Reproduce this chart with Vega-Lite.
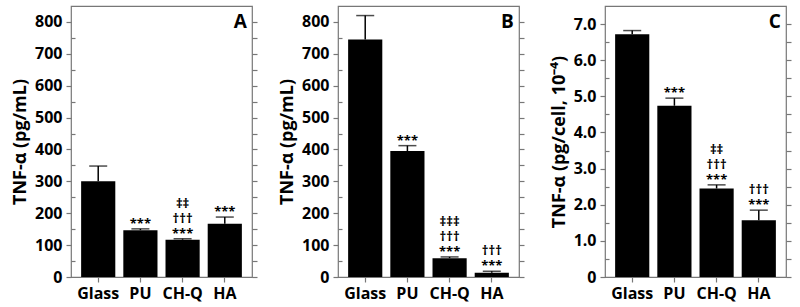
{
  "$schema": "https://vega.github.io/schema/vega-lite/v6.json",
  "autosize": {"type": "pad"},
  "padding": {"left": 10, "top": 5, "right": 5, "bottom": 2},
  "bounds": "flush",
  "spacing": 86,
  "datasets": {
    "A": [
      {"material": "Glass", "value": 300, "err": 348, "stars": "", "dagger": "", "ddagger": ""},
      {"material": "PU", "value": 147, "err": 151, "stars": "***", "dagger": "", "ddagger": ""},
      {"material": "CH-Q", "value": 117, "err": 120, "stars": "***", "dagger": "†††", "ddagger": "‡‡"},
      {"material": "HA", "value": 167, "err": 188, "stars": "***", "dagger": "", "ddagger": ""}
    ],
    "B": [
      {"material": "Glass", "value": 745, "err": 820, "stars": "", "dagger": "", "ddagger": ""},
      {"material": "PU", "value": 395, "err": 412, "stars": "***", "dagger": "", "ddagger": ""},
      {"material": "CH-Q", "value": 59, "err": 63, "stars": "***", "dagger": "†††", "ddagger": "‡‡‡"},
      {"material": "HA", "value": 13, "err": 18, "stars": "***", "dagger": "†††", "ddagger": ""}
    ],
    "C": [
      {"material": "Glass", "value": 6.72, "err": 6.82, "stars": "", "dagger": "", "ddagger": ""},
      {"material": "PU", "value": 4.74, "err": 4.95, "stars": "***", "dagger": "", "ddagger": ""},
      {"material": "CH-Q", "value": 2.45, "err": 2.55, "stars": "***", "dagger": "†††", "ddagger": "‡‡"},
      {"material": "HA", "value": 1.57, "err": 1.85, "stars": "***", "dagger": "†††", "ddagger": ""}
    ],
    "letters": [
      {"panel": "A", "material": "HA"},
      {"panel": "B", "material": "HA"},
      {"panel": "C", "material": "HA"}
    ]
  },
  "config": {
    "font": "Open Sans",
    "view": {"stroke": "#777777", "strokeWidth": 1.2},
    "axis": {
      "grid": false,
      "domain": false,
      "tickColor": "#777777",
      "tickWidth": 1.2,
      "tickSize": 5,
      "labelFont": "Open Sans",
      "labelFontWeight": "bold",
      "labelFontSize": 16,
      "labelColor": "black",
      "titleFont": "Open Sans",
      "titleFontWeight": "bold",
      "titleFontSize": 18,
      "titleColor": "black"
    }
  },
  "hconcat": [
    {
      "width": 181, "height": 271,
      "encoding": {
        "x": {"field": "material", "type": "nominal", "sort": ["Glass", "PU", "CH-Q", "HA"],
              "scale": {"paddingInner": 0.19, "paddingOuter": 0.24},
              "axis": {"title": null, "labelAngle": 0, "labelPadding": 3}}
      },
      "layer": [
        {"data": {"name": "A"}, "mark": {"type": "bar", "color": "black"},
         "encoding": {"y": {"field": "value", "type": "quantitative", "scale": {"domain": [0, 850], "nice": false},
           "axis": {"title": "TNF-α (pg/mL)", "values": [0,100,200,300,400,500,600,700,800], "labelPadding": 4, "titlePadding": 5}}}},
        {"data": {"name": "A"}, "mark": {"type": "rule", "color": "black", "strokeWidth": 1.5},
         "encoding": {"y": {"field": "value", "type": "quantitative", "scale": {"domain": [0, 850], "nice": false},
           "axis": {"orient": "right", "values": [0,50,100,150,200,250,300,350,400,450,500,550,600,650,700,750,800], "labels": false, "title": null}},
           "y2": {"field": "err"}}},
        {"data": {"name": "A"}, "mark": {"type": "tick", "color": "black", "size": 18, "thickness": 1.5},
         "encoding": {"y": {"field": "err", "type": "quantitative", "scale": {"domain": [0, 850], "nice": false},
           "axis": {"orient": "left", "values": [50,150,250,350,450,550,650,750], "labels": false, "title": null, "tickSize": -4}}}},
        {"data": {"name": "A"}, "transform": [{"filter": "datum.stars != ''"}],
         "mark": {"type": "text", "fontSize": 13, "fontWeight": "bold", "baseline": "bottom", "dy": 2, "color": "black"},
         "encoding": {"y": {"field": "err", "type": "quantitative", "scale": {"domain": [0, 850], "nice": false}, "axis": null},
           "text": {"field": "stars"}}},
        {"data": {"name": "A"}, "transform": [{"filter": "datum.dagger != ''"}],
         "mark": {"type": "text", "fontSize": 13, "fontWeight": "bold", "baseline": "bottom", "dy": -13, "color": "black"},
         "encoding": {"y": {"field": "err", "type": "quantitative", "scale": {"domain": [0, 850], "nice": false}, "axis": null},
           "text": {"field": "dagger"}}},
        {"data": {"name": "A"}, "transform": [{"filter": "datum.ddagger != ''"}],
         "mark": {"type": "text", "fontSize": 13, "fontWeight": "bold", "baseline": "bottom", "dy": -28, "color": "black"},
         "encoding": {"y": {"field": "err", "type": "quantitative", "scale": {"domain": [0, 850], "nice": false}, "axis": null},
           "text": {"field": "ddagger"}}},
        {"data": {"name": "letters"}, "transform": [{"filter": "datum.panel == 'A'"}],
         "mark": {"type": "text", "fontSize": 19, "fontWeight": "bold", "align": "right", "baseline": "top", "dx": 22, "dy": 7, "color": "black"},
         "encoding": {"y": {"datum": 850, "type": "quantitative", "scale": {"domain": [0, 850], "nice": false}, "axis": null},
           "text": {"field": "panel"}}}
      ],
      "resolve": {"axis": {"y": "independent"}}
    },
    {
      "width": 181, "height": 271,
      "encoding": {
        "x": {"field": "material", "type": "nominal", "sort": ["Glass", "PU", "CH-Q", "HA"],
              "scale": {"paddingInner": 0.19, "paddingOuter": 0.24},
              "axis": {"title": null, "labelAngle": 0, "labelPadding": 3}}
      },
      "layer": [
        {"data": {"name": "B"}, "mark": {"type": "bar", "color": "black"},
         "encoding": {"y": {"field": "value", "type": "quantitative", "scale": {"domain": [0, 850], "nice": false},
           "axis": {"title": "TNF-α (pg/mL)", "values": [0,100,200,300,400,500,600,700,800], "labelPadding": 4, "titlePadding": 5}}}},
        {"data": {"name": "B"}, "mark": {"type": "rule", "color": "black", "strokeWidth": 1.5},
         "encoding": {"y": {"field": "value", "type": "quantitative", "scale": {"domain": [0, 850], "nice": false},
           "axis": {"orient": "right", "values": [0,50,100,150,200,250,300,350,400,450,500,550,600,650,700,750,800], "labels": false, "title": null}},
           "y2": {"field": "err"}}},
        {"data": {"name": "B"}, "mark": {"type": "tick", "color": "black", "size": 18, "thickness": 1.5},
         "encoding": {"y": {"field": "err", "type": "quantitative", "scale": {"domain": [0, 850], "nice": false},
           "axis": {"orient": "left", "values": [50,150,250,350,450,550,650,750], "labels": false, "title": null, "tickSize": -4}}}},
        {"data": {"name": "B"}, "transform": [{"filter": "datum.stars != ''"}],
         "mark": {"type": "text", "fontSize": 13, "fontWeight": "bold", "baseline": "bottom", "dy": 2, "color": "black"},
         "encoding": {"y": {"field": "err", "type": "quantitative", "scale": {"domain": [0, 850], "nice": false}, "axis": null},
           "text": {"field": "stars"}}},
        {"data": {"name": "B"}, "transform": [{"filter": "datum.dagger != ''"}],
         "mark": {"type": "text", "fontSize": 13, "fontWeight": "bold", "baseline": "bottom", "dy": -13, "color": "black"},
         "encoding": {"y": {"field": "err", "type": "quantitative", "scale": {"domain": [0, 850], "nice": false}, "axis": null},
           "text": {"field": "dagger"}}},
        {"data": {"name": "B"}, "transform": [{"filter": "datum.ddagger != ''"}],
         "mark": {"type": "text", "fontSize": 13, "fontWeight": "bold", "baseline": "bottom", "dy": -28, "color": "black"},
         "encoding": {"y": {"field": "err", "type": "quantitative", "scale": {"domain": [0, 850], "nice": false}, "axis": null},
           "text": {"field": "ddagger"}}},
        {"data": {"name": "letters"}, "transform": [{"filter": "datum.panel == 'B'"}],
         "mark": {"type": "text", "fontSize": 19, "fontWeight": "bold", "align": "right", "baseline": "top", "dx": 22, "dy": 7, "color": "black"},
         "encoding": {"y": {"datum": 850, "type": "quantitative", "scale": {"domain": [0, 850], "nice": false}, "axis": null},
           "text": {"field": "panel"}}}
      ],
      "resolve": {"axis": {"y": "independent"}}
    },
    {
      "width": 181, "height": 271,
      "encoding": {
        "x": {"field": "material", "type": "nominal", "sort": ["Glass", "PU", "CH-Q", "HA"],
              "scale": {"paddingInner": 0.19, "paddingOuter": 0.24},
              "axis": {"title": null, "labelAngle": 0, "labelPadding": 3}}
      },
      "layer": [
        {"data": {"name": "C"}, "mark": {"type": "bar", "color": "black"},
         "encoding": {"y": {"field": "value", "type": "quantitative", "scale": {"domain": [0, 7.5], "nice": false},
           "axis": {"title": "TNF-α (pg/cell, 10⁻⁴)", "values": [0,1,2,3,4,5,6,7], "labelExpr": "datum.value == 0 ? '0' : format(datum.value, '.1f')", "labelPadding": 4, "titlePadding": 5}}}},
        {"data": {"name": "C"}, "mark": {"type": "rule", "color": "black", "strokeWidth": 1.5},
         "encoding": {"y": {"field": "value", "type": "quantitative", "scale": {"domain": [0, 7.5], "nice": false},
           "axis": {"orient": "right", "values": [0,0.5,1,1.5,2,2.5,3,3.5,4,4.5,5,5.5,6,6.5,7], "labels": false, "title": null}},
           "y2": {"field": "err"}}},
        {"data": {"name": "C"}, "mark": {"type": "tick", "color": "black", "size": 18, "thickness": 1.5},
         "encoding": {"y": {"field": "err", "type": "quantitative", "scale": {"domain": [0, 7.5], "nice": false},
           "axis": {"orient": "left", "values": [0.5,1.5,2.5,3.5,4.5,5.5,6.5], "labels": false, "title": null, "tickSize": -4}}}},
        {"data": {"name": "C"}, "transform": [{"filter": "datum.stars != ''"}],
         "mark": {"type": "text", "fontSize": 13, "fontWeight": "bold", "baseline": "bottom", "dy": 2, "color": "black"},
         "encoding": {"y": {"field": "err", "type": "quantitative", "scale": {"domain": [0, 7.5], "nice": false}, "axis": null},
           "text": {"field": "stars"}}},
        {"data": {"name": "C"}, "transform": [{"filter": "datum.dagger != ''"}],
         "mark": {"type": "text", "fontSize": 13, "fontWeight": "bold", "baseline": "bottom", "dy": -13, "color": "black"},
         "encoding": {"y": {"field": "err", "type": "quantitative", "scale": {"domain": [0, 7.5], "nice": false}, "axis": null},
           "text": {"field": "dagger"}}},
        {"data": {"name": "C"}, "transform": [{"filter": "datum.ddagger != ''"}],
         "mark": {"type": "text", "fontSize": 13, "fontWeight": "bold", "baseline": "bottom", "dy": -28, "color": "black"},
         "encoding": {"y": {"field": "err", "type": "quantitative", "scale": {"domain": [0, 7.5], "nice": false}, "axis": null},
           "text": {"field": "ddagger"}}},
        {"data": {"name": "letters"}, "transform": [{"filter": "datum.panel == 'C'"}],
         "mark": {"type": "text", "fontSize": 19, "fontWeight": "bold", "align": "right", "baseline": "top", "dx": 22, "dy": 7, "color": "black"},
         "encoding": {"y": {"datum": 7.5, "type": "quantitative", "scale": {"domain": [0, 7.5], "nice": false}, "axis": null},
           "text": {"field": "panel"}}}
      ],
      "resolve": {"axis": {"y": "independent"}}
    }
  ]
}
